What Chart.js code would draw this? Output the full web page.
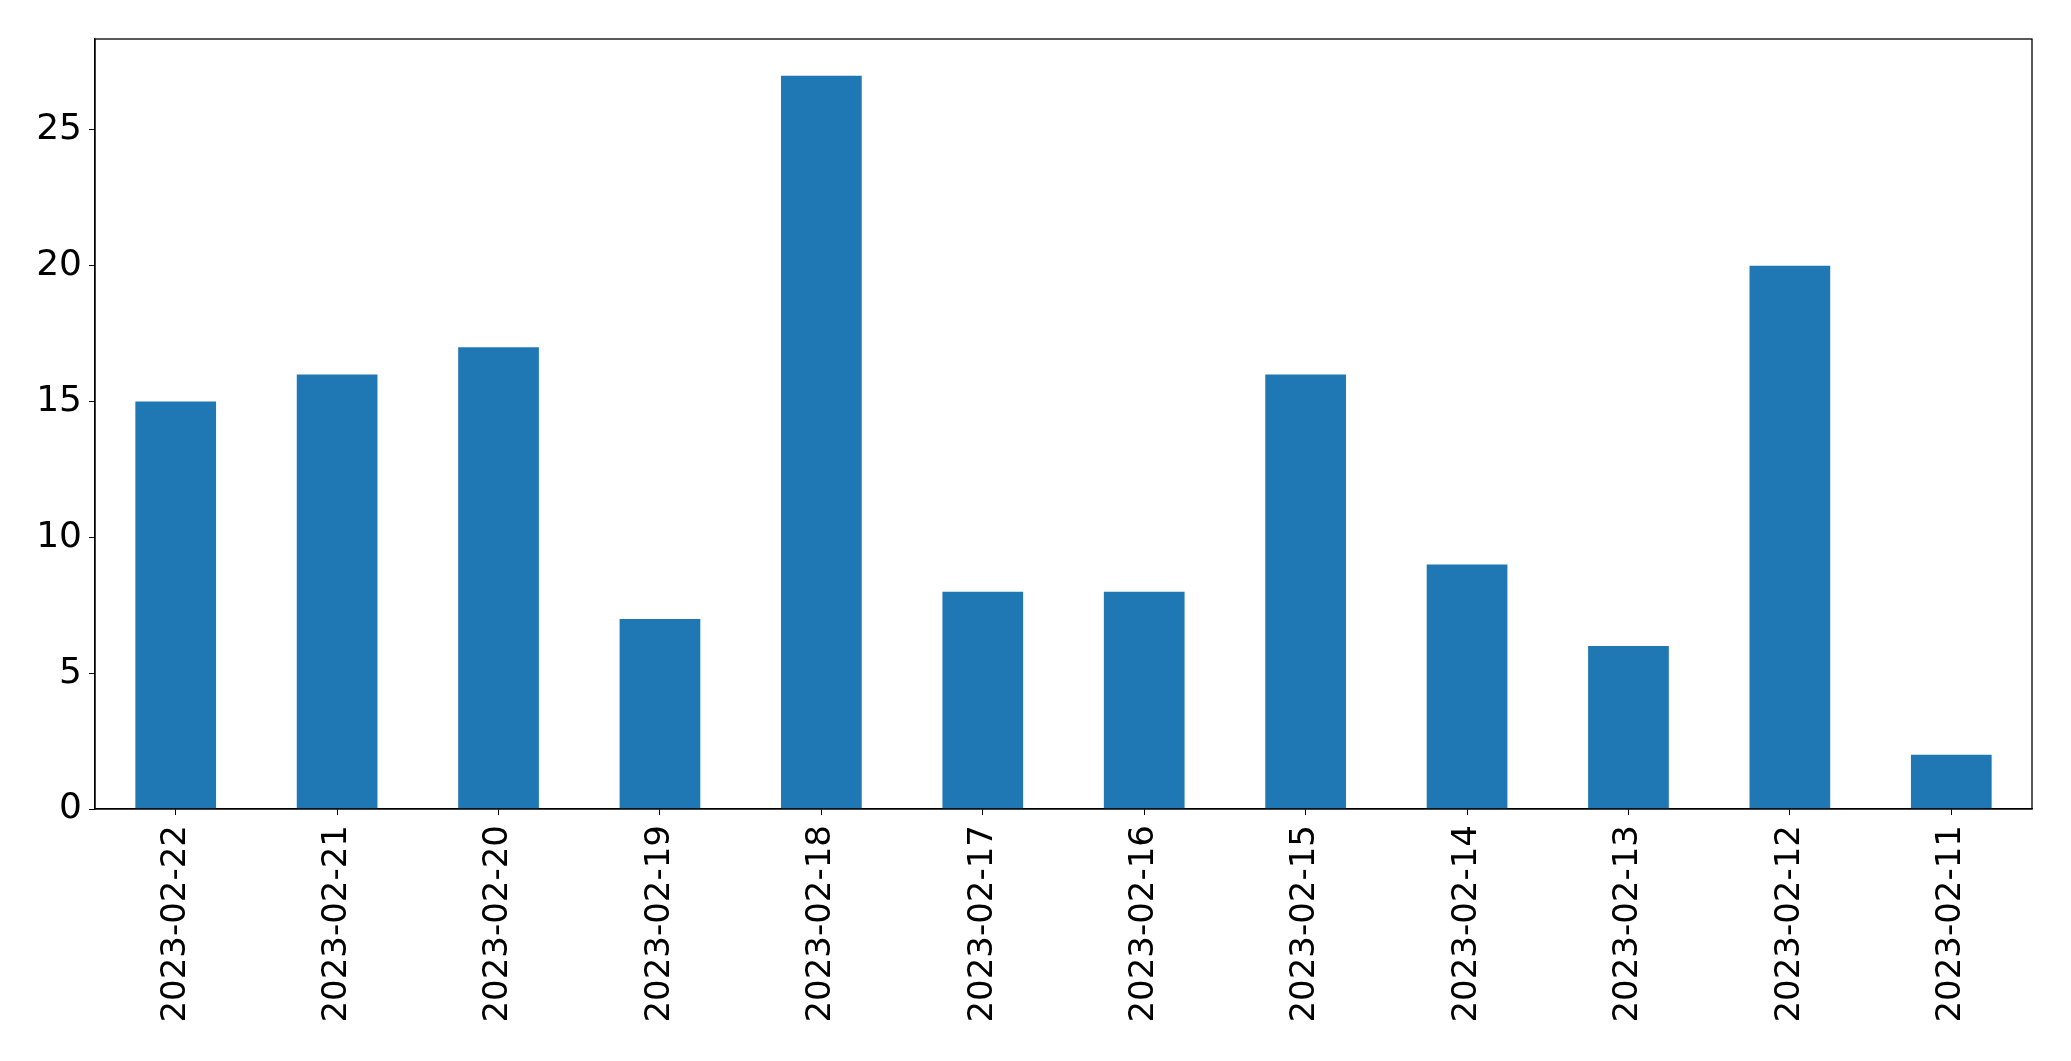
<!DOCTYPE html>
<html>
<head>
<meta charset="utf-8">
<script src="https://cdn.jsdelivr.net/npm/chart.js@4/dist/chart.umd.min.js"></script>
<style>
html,body{margin:0;padding:0;background:#fff;}
#wrap{width:2071px;height:1061px;position:relative;}
</style>
</head>
<body>
<div id="wrap"><canvas id="c" width="2071" height="1061"></canvas></div>
<script>
const categories = ["2023-02-22","2023-02-21","2023-02-20","2023-02-19","2023-02-18","2023-02-17","2023-02-16","2023-02-15","2023-02-14","2023-02-13","2023-02-12","2023-02-11"];
const counts = [15,16,17,7,27,8,8,16,9,6,20,2];
const yTicks = [0,5,10,15,20,25];

const frame = {
  id:'frame',
  afterDraw(chart){
    const {ctx, chartArea:a} = chart;
    ctx.save();
    ctx.strokeStyle = '#000';
    ctx.lineWidth = 1.3;
    ctx.strokeRect(a.left, a.top, a.right - a.left, a.bottom - a.top);
    ctx.restore();
  }
};

new Chart(document.getElementById('c'), {
  type: 'bar',
  data: {
    labels: categories,
    datasets: [{
      data: counts,
      backgroundColor: '#1f77b4',
      borderWidth: 0,
      barPercentage: 0.5,
      categoryPercentage: 1.0
    }]
  },
  options: {
    responsive: false,
    animation: false,
    devicePixelRatio: 1,
    layout: { padding: { left: 0, right: 39, top: 39, bottom: 0 } },
    plugins: { legend: { display: false }, tooltip: { enabled: false } },
    scales: {
      x: {
        offset: true,
        grid: { display: true, drawOnChartArea: false, drawTicks: true, tickLength: 6, tickColor: '#000', offset: false },
        border: { display: true, color: '#000', width: 1.3 },
        ticks: {
          color: '#000',
          font: { family: 'DejaVu Sans', size: 34 },
          minRotation: 90, maxRotation: 90,
          padding: 10,
          autoSkip: false
        },
        afterFit(s){ s.height = 1061 - 809; }
      },
      y: {
        min: 0, max: 28.35,
        afterBuildTicks(s){ s.ticks = yTicks.map(v => ({value: v})); },
        grid: { display: true, drawOnChartArea: false, drawTicks: true, tickLength: 6, tickColor: '#000' },
        border: { display: true, color: '#000', width: 1.3 },
        ticks: {
          color: '#000',
          font: { family: 'DejaVu Sans', size: 36 },
          padding: 7
        },
        afterFit(s){ s.width = 95; }
      }
    }
  },
  plugins: [frame]
});
</script>
</body>
</html>
